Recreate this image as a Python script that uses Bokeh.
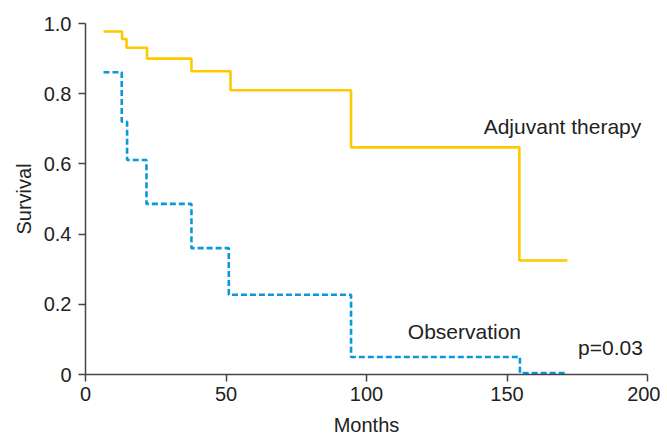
from bokeh.plotting import figure
from bokeh.models import Range1d, FixedTicker
from bokeh.core.properties import value
from bokeh.embed import file_html
from bokeh.resources import INLINE

adj_months = [6.4, 13.0, 14.6, 21.9, 37.7, 51.6, 94.5, 154.4, 171.5]
adj_surv = [0.977, 0.956, 0.931, 0.900, 0.864, 0.810, 0.647, 0.325, 0.325]
obs_months = [6.4, 12.9, 14.8, 21.7, 37.7, 51.0, 94.5, 154.6, 170.9]
obs_surv = [0.861, 0.720, 0.611, 0.486, 0.360, 0.227, 0.050, 0.004, 0.004]
x_ticks = [0, 50, 100, 150, 200]
y_ticks = [0, 0.2, 0.4, 0.6, 0.8, 1.0]
y_labels = {0: "0", 0.2: "0.2", 0.4: "0.4", 0.6: "0.6", 0.8: "0.8", 1.0: "1.0"}

FONT = "Liberation Sans"
YELLOW = "#FFC800"
BLUE = "#0A98DA"
AXIS = "#444444"
TXT = "#222222"
FS = "20px"
FS_ANN = "21px"

p = figure(width=660, height=438, output_backend="svg", toolbar_location=None,
           x_range=Range1d(0, 200), y_range=Range1d(0, 1.0),
           min_border_left=85, min_border_right=13, min_border_top=23, min_border_bottom=63)
p.outline_line_color = None
p.grid.grid_line_color = None

p.step(adj_months, adj_surv, mode="after", line_color=YELLOW, line_width=2.6)
p.step(obs_months, obs_surv, mode="after", line_color=BLUE, line_width=2.6, line_dash="6 3")

p.text(x=[141.7], y=[0.707], text=["Adjuvant therapy"], text_font=value(FONT),
       text_font_size=FS_ANN, text_color=TXT, text_baseline="middle", text_align="left")
p.text(x=[114.7], y=[0.123], text=["Observation"], text_font=value(FONT),
       text_font_size=FS_ANN, text_color=TXT, text_baseline="middle", text_align="left")
p.text(x=[175.3], y=[0.076], text=["p=0.03"], text_font=value(FONT),
       text_font_size=FS_ANN, text_color=TXT, text_baseline="middle", text_align="left")

for ax in (p.xaxis[0], p.yaxis[0]):
    ax.axis_line_color = AXIS
    ax.axis_line_width = 1.5
    ax.major_tick_line_color = AXIS
    ax.major_tick_line_width = 1.5
    ax.major_tick_out = 7
    ax.major_tick_in = 0
    ax.minor_tick_line_color = None
    ax.major_label_text_font = FONT
    ax.major_label_text_font_size = FS
    ax.major_label_text_color = TXT
    ax.axis_label_text_font = FONT
    ax.axis_label_text_font_size = FS
    ax.axis_label_text_font_style = "normal"
    ax.axis_label_text_color = TXT

p.xaxis.ticker = FixedTicker(ticks=x_ticks)
p.yaxis.ticker = FixedTicker(ticks=y_ticks)
p.yaxis.major_label_overrides = y_labels
p.xaxis.axis_label = "Months"
p.yaxis.axis_label = "Survival"
p.xaxis.major_label_standoff = 5
p.xaxis.axis_label_standoff = 10
p.yaxis.major_label_standoff = 7
p.yaxis.axis_label_standoff = 6

open("out.html", "w").write(file_html(p, INLINE))
